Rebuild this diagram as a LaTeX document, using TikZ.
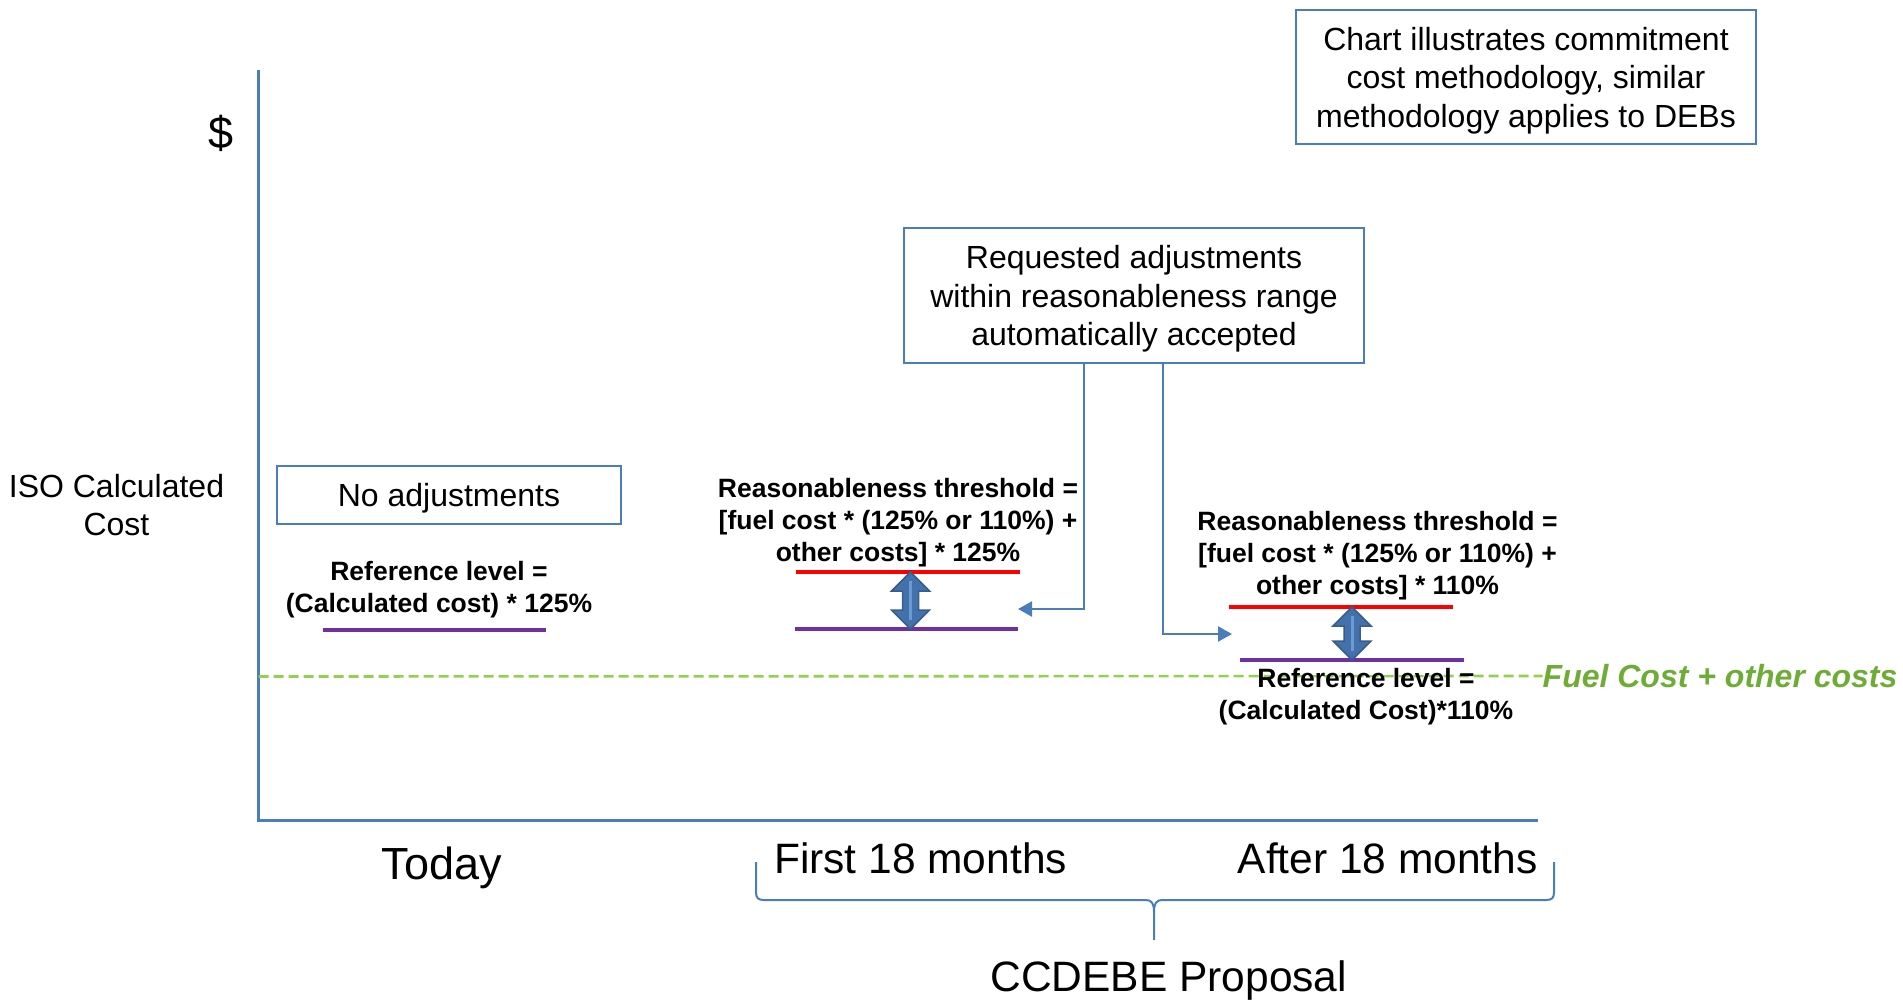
\documentclass[tikz,border=0pt]{standalone}
\usepackage{fontspec}
\setmainfont{Liberation Sans}
\usetikzlibrary{arrows.meta}
\definecolor{axisblue}{HTML}{4A7EBB}
\definecolor{arrfill}{HTML}{4371AB}
\definecolor{arrdraw}{HTML}{385D8A}
\definecolor{arrlight}{HTML}{6D9AD2}
\definecolor{refpurple}{HTML}{7030A0}
\definecolor{fuelgreen}{HTML}{92D050}
\definecolor{fueltext}{HTML}{6EAD35}
\newcommand{\dblarr}[3]{%
  \filldraw[fill=arrfill,draw=arrdraw,line width=1.5pt,line join=miter]
    (#1,#2) -- (#1+19,#2+19) -- (#1+8,#2+19) -- (#1+8,#3-19) -- (#1+19,#3-19)
    -- (#1,#3) -- (#1-19,#3-19) -- (#1-8,#3-19) -- (#1-8,#2+19) -- (#1-19,#2+19) -- cycle;
  \draw[arrlight,line width=3pt] (#1,#2+9) -- (#1,#3-9);}
\begin{document}
\begin{tikzpicture}[x=1pt,y=-1pt,
  axis/.style={draw=axisblue,line width=2.4pt},
  box/.style={draw=axisblue,line width=2pt,inner sep=0pt},
  big/.style={font=\fontsize{32}{38.4}\selectfont,align=center,inner sep=0pt},
  boldtxt/.style={font=\fontsize{26.5}{32}\selectfont\bfseries,align=center,inner sep=0pt},
  huge/.style={font=\fontsize{42.5}{50}\selectfont,inner sep=0pt},
  redline/.style={draw=red,line width=3.5pt},
  purpline/.style={draw=refpurple,line width=3.8pt},
  conn/.style={draw=axisblue,line width=2.2pt,-{Triangle[length=14pt,width=15pt]}},
  bracestyle/.style={draw=axisblue,line width=2pt}
]
\useasboundingbox (0,0) rectangle (1903,1000);

% axes
\coordinate (ytop) at (258.5,70);
\coordinate (orig) at (258.5,820.5);
\coordinate (xend) at (1538,820.5);
\draw[axis] (ytop) -- (orig) -- (xend);

% top-right note
\node[box,minimum width=460pt,minimum height=134pt] (note) at (1526,77) {};
\node[big] (notetext) at ([yshift=-3.5pt]note.center)
  {Chart illustrates commitment\\cost methodology, similar\\methodology applies to DEBs};

% axis labels
\node[font=\fontsize{45}{54}\selectfont,inner sep=0pt] (dollar) at (221,133) {\$};
\node[big] (iso) at (116.5,505) {ISO Calculated\\Cost};

% today
\node[box,minimum width=344pt,minimum height=58pt] (noadj) at (449,495) {};
\node[big] (noadjtext) at ([yshift=-3.5pt]noadj.center) {No adjustments};
\node[boldtxt] (ref1) at (439,589.5) {Reference level =\\(Calculated cost) * 125\%};
\draw[purpline] (323,630) -- (546,630);

% requested box
\node[box,minimum width=460pt,minimum height=135pt] (req) at (1134,295.5) {};
\node[big] (reqtext) at ([yshift=-3.5pt]req.center)
  {Requested adjustments\\within reasonableness range\\automatically accepted};

% first 18 months
\node[boldtxt] (thr1) at (898,523) {Reasonableness threshold =\\{[}fuel cost * (125\% or 110\%) +\\other costs] * 125\%};
\draw[redline] (796,572) -- (1020,572);
\draw[purpline] (795,629) -- (1018,629);
\dblarr{910.5}{572}{629}

% after 18 months
\node[boldtxt] (thr2) at (1377.5,555.5) {Reasonableness threshold =\\{[}fuel cost * (125\% or 110\%) +\\other costs] * 110\%};
\draw[redline] (1229,607) -- (1453,607);
\draw[purpline] (1240,660) -- (1464,660);
\dblarr{1352}{607}{660}

% fuel cost line
\node[font=\fontsize{32}{38}\selectfont\bfseries\itshape,text=fueltext,anchor=west,inner sep=0pt] (fuel) at (1542.5,676) {Fuel Cost + other costs};
\draw[fuelgreen,line width=2.6pt,dash pattern=on 10pt off 5pt] (258.5,676.5) -- (fuel.west);
\node[boldtxt] (ref2) at (1366,696.5) {Reference level =\\(Calculated Cost)*110\%};

% connectors
\coordinate (t1) at (1018,609);
\coordinate (t2) at (1232,634);
\draw[conn] ([xshift=-50pt]req.south) |- (t1);
\draw[conn] ([xshift=29pt]req.south) |- (t2);

% bottom labels
\node[font=\fontsize{45}{54}\selectfont,inner sep=0pt] (today) at (441.7,867.5) {Today};
\node[huge] (first) at (920.5,858) {First 18 months};
\node[huge] (after) at (1387.7,858) {After 18 months};

% brace
\draw[bracestyle] (756,862) -- (756,892) .. controls (756,898) and (758,900) .. (764,900)
  -- (1146,900) .. controls (1152,900) and (1154,904) .. (1154,912) -- (1154,940);
\draw[bracestyle] (1554,862) -- (1554,892) .. controls (1554,898) and (1552,900) .. (1546,900)
  -- (1162,900) .. controls (1156,900) and (1154,904) .. (1154,912);
\node[huge] (ccdebe) at (1168.7,981) {CCDEBE Proposal};
\end{tikzpicture}
\end{document}
